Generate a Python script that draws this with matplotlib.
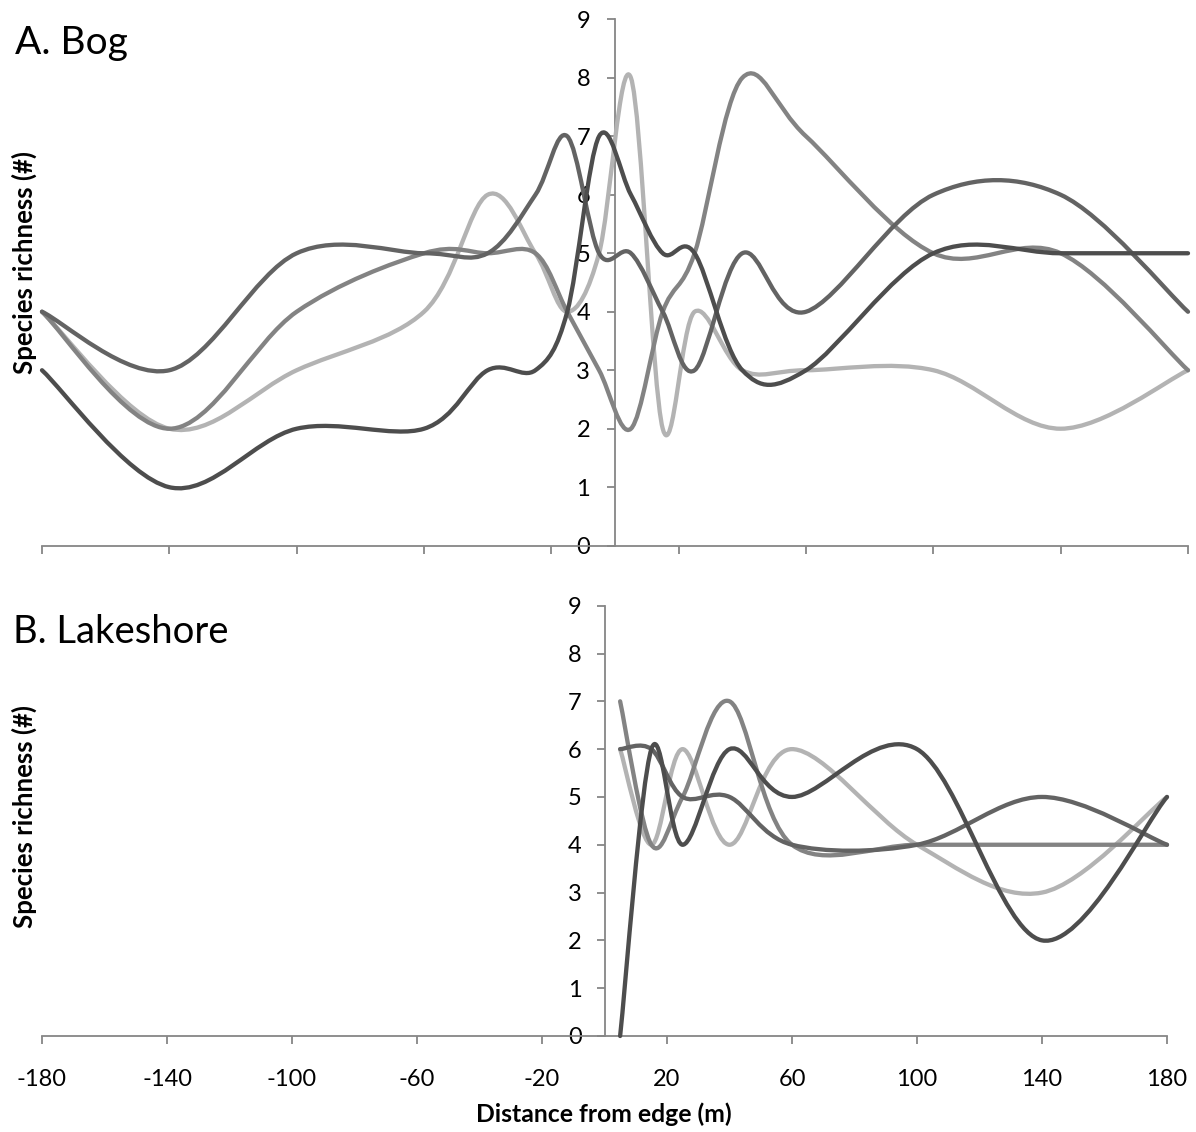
import matplotlib
matplotlib.use('Agg')
import matplotlib.pyplot as plt
from matplotlib.path import Path
from matplotlib.patches import PathPatch

plt.rcParams['font.family'] = ['Lato', 'DejaVu Sans']
plt.rcParams['axes.unicode_minus'] = False

# ---------------- data ----------------
bog_x = [-180, -140, -100, -60, -40, -25, -15, -5, 5, 15, 25, 40, 60, 100, 140, 180]
bog_light = [4, 2, 3, 4, 6, 5, 4, 5, 8, 2, 4, 3, 3, 3, 2, 3]
bog_mid = [4, 2, 4, 5, 5, 5, 4, 3, 2, 4, 5, 8, 7, 5, 5, 3]
bog_dark1 = [4, 3, 5, 5, 5, 6, 7, 5, 5, 4, 3, 5, 4, 6, 6, 4]
bog_dark2 = [3, 1, 2, 2, 3, 3, 4, 7, 6, 5, 5, 3, 3, 5, 5, 5]

lake_x = [5, 15, 25, 40, 60, 100, 140, 180]
lake_light = [6, 4, 6, 4, 6, 4, 3, 5]
lake_mid = [7, 4, 5, 7, 4, 4, 4, 4]
lake_dark1 = [6, 6, 5, 5, 4, 4, 5, 4]
lake_dark2 = [0, 6, 4, 6, 5, 6, 2, 5]

x_ticks = [-180, -140, -100, -60, -20, 20, 60, 100, 140, 180]
y_ticks = list(range(10))

col_light = '#b3b3b3'
col_mid = '#838383'
col_dark1 = '#636363'
col_dark2 = '#4d4d4d'
axis_col = '#868686'


def smooth_path(xs, ys):
    """Excel-like smoothed line: cubic Bezier through each data point."""
    pts = list(zip(xs, ys))
    n = len(pts)
    verts = [pts[0]]
    codes = [Path.MOVETO]
    for i in range(n - 1):
        p0 = pts[i - 1] if i > 0 else pts[i]
        p1 = pts[i]
        p2 = pts[i + 1]
        p3 = pts[i + 2] if i + 2 < n else pts[i + 1]
        c1 = (p1[0] + (p2[0] - p0[0]) / 6.0, p1[1] + (p2[1] - p0[1]) / 6.0)
        c2 = (p2[0] - (p3[0] - p1[0]) / 6.0, p2[1] - (p3[1] - p1[1]) / 6.0)
        verts += [c1, c2, p2]
        codes += [Path.CURVE4] * 3
    return Path(verts, codes)


def draw(ax, xs, ys, color):
    patch = PathPatch(smooth_path(xs, ys), facecolor='none', edgecolor=color,
                      lw=3.1, capstyle='round', joinstyle='round', clip_on=False, zorder=3)
    ax.add_patch(patch)


def style(ax, show_xlabels, ypad):
    ax.set_xlim(-180, 180)
    ax.set_ylim(0, 9)
    for s in ('top', 'right'):
        ax.spines[s].set_visible(False)
    ax.spines['left'].set_position(('data', 0))
    for s in ('left', 'bottom'):
        ax.spines[s].set_color(axis_col)
        ax.spines[s].set_linewidth(1.3)
    ax.set_xticks(x_ticks)
    ax.set_yticks(y_ticks)
    ax.tick_params(axis='both', direction='out', length=6, width=1.3, color=axis_col,
                   labelsize=17, labelcolor='black')
    ax.tick_params(axis='y', pad=ypad)
    ax.tick_params(axis='x', pad=18)
    if not show_xlabels:
        ax.tick_params(axis='x', labelbottom=False)
    ax.patch.set_visible(False)


W, H = 1196, 1132
fig = plt.figure(figsize=(W / 100, H / 100), dpi=100)
ax1 = fig.add_axes([42 / W, (H - 545.7) / H, 1146 / W, 526.4 / H])
ax2 = fig.add_axes([42 / W, (H - 1036) / H, 1125 / W, 430.3 / H])

style(ax1, False, 12)
style(ax2, True, 10.5)

for ys, c in ((bog_light, col_light), (bog_mid, col_mid), (bog_dark1, col_dark1), (bog_dark2, col_dark2)):
    draw(ax1, bog_x, ys, c)
for ys, c in ((lake_light, col_light), (lake_mid, col_mid), (lake_dark1, col_dark1), (lake_dark2, col_dark2)):
    draw(ax2, lake_x, ys, c)

fig.text(15 / W, 1 - 54 / H, 'A. Bog', fontsize=28, ha='left', va='baseline')
fig.text(13 / W, 1 - 643 / H, 'B. Lakeshore', fontsize=27.5, ha='left', va='baseline')
fig.text(24 / W, 1 - 262 / H, 'Species richness (#)', fontsize=18.5, fontweight='bold',
         rotation=90, ha='center', va='center')
fig.text(24 / W, 1 - 816 / H, 'Species richness (#)', fontsize=18.5, fontweight='bold',
         rotation=90, ha='center', va='center')
fig.text(604 / W, 1 - 1122 / H, 'Distance from edge (m)', fontsize=17.8, fontweight='bold',
         ha='center', va='baseline')

fig.savefig('out.png', dpi=100)
